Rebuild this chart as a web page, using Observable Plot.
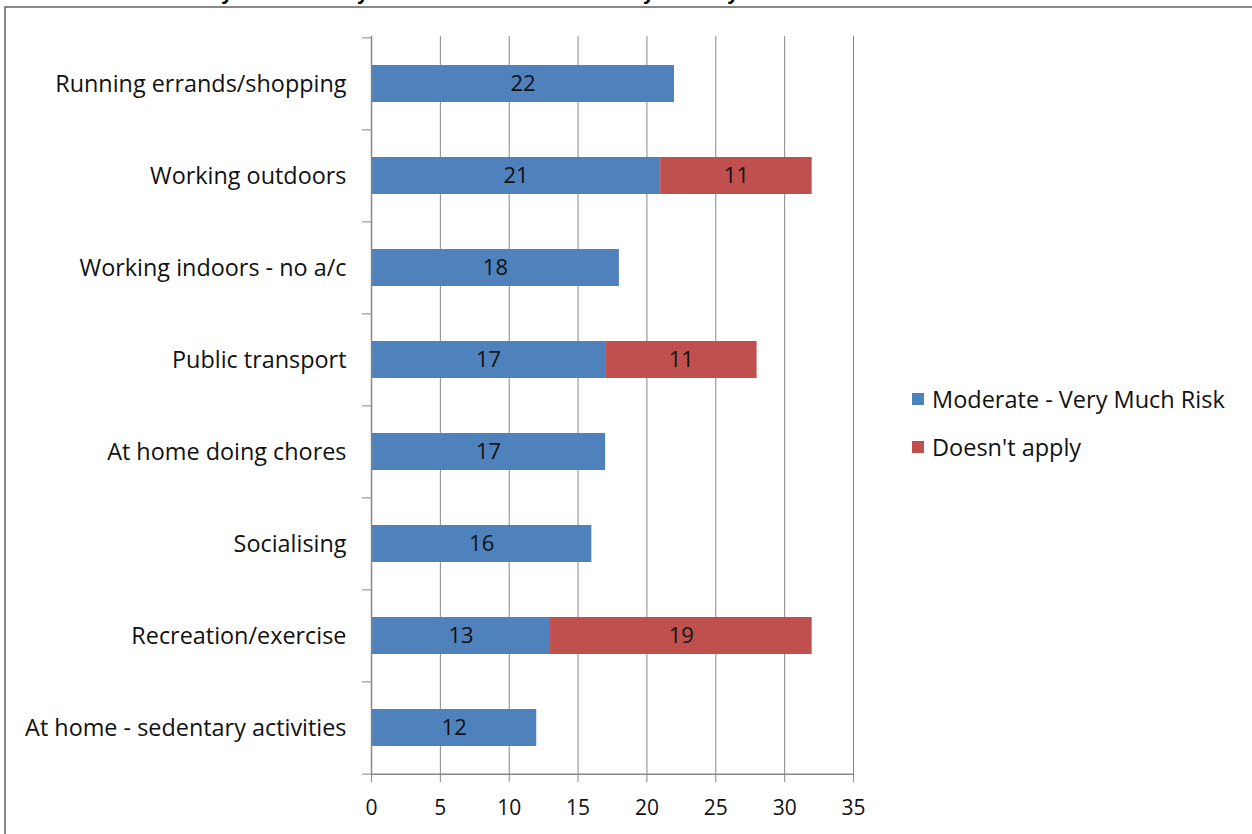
<!DOCTYPE html>
<html>
<head>
<meta charset="utf-8">
<script src="https://cdn.jsdelivr.net/npm/d3@7"></script>
<script src="https://cdn.jsdelivr.net/npm/@observablehq/plot@0.6"></script>
<style>
  html, body { margin: 0; padding: 0; background: #fff; }
  #wrap { position: relative; width: 1252px; height: 834px; overflow: hidden; background: #fff; }
  #title { position: absolute; top: -19px; right: 487px; white-space: nowrap; font: bold 22px "Liberation Sans", Arial, sans-serif; line-height: 22px; color: #000; }
  #frame { position: absolute; left: 4px; top: 6px; width: 1300px; height: 900px; border-left: 2px solid #888; border-top: 2px solid #888; box-sizing: border-box; }
  #chart { position: absolute; left: 0; top: 0; }
  #legend { position: absolute; left: 912px; top: 383px; font: 23.5px "Open Sans", sans-serif; color: #111; }
  .item { display: flex; align-items: center; height: 32px; margin-bottom: 16px; }
  .sw { width: 12px; height: 12px; margin-right: 8px; }
</style>
</head>
<body>
<div id="wrap">
  <div id="title">How much do you feel that your health is at risk on very hot days?</div>
  <div id="frame"></div>
  <div id="chart"></div>
  <div id="legend"></div>
</div>
<script>
const categories = [
  "Running errands/shopping",
  "Working outdoors",
  "Working indoors - no a/c",
  "Public transport",
  "At home doing chores",
  "Socialising",
  "Recreation/exercise",
  "At home - sedentary activities"
];
const seriesNames = ["Moderate - Very Much Risk", "Doesn't apply"];
const moderateRisk = [22, 21, 18, 17, 17, 16, 13, 12];
const doesntApply = [null, 11, null, 11, null, null, 19, null];
const seriesColors = ["#4F81BD", "#C0504D"];
const xTicks = [0, 5, 10, 15, 20, 25, 30, 35];

const rows = [];
categories.forEach((c, i) => {
  rows.push({cat: c, series: seriesNames[0], value: moderateRisk[i]});
  if (doesntApply[i] != null) rows.push({cat: c, series: seriesNames[1], value: doesntApply[i]});
});

const W = 1252, H = 834;
const mTop = 36, mBottom = 60, mLeft = 371, mRight = 399;
const step = (H - mTop - mBottom) / categories.length;
const font = '"Open Sans", sans-serif';

const plot = Plot.plot({
  width: W,
  height: H,
  marginTop: mTop,
  marginBottom: mBottom,
  marginLeft: mLeft,
  marginRight: mRight,
  style: {fontFamily: font, fontSize: "20px", color: "#111", background: "transparent", overflow: "visible"},
  x: {domain: [0, 35], ticks: xTicks, label: null},
  y: {domain: categories, paddingInner: 0.6, paddingOuter: 0.3, label: null},
  color: {domain: seriesNames, range: seriesColors},
  marks: [
    Plot.gridX(xTicks.filter(t => t > 0), {stroke: "#878787", strokeOpacity: 1, strokeWidth: 1}),
    Plot.barX(rows, Plot.stackX({x: "value", y: "cat", fill: "series", order: seriesNames})),
    Plot.text(rows, Plot.stackX({x: "value", y: "cat", z: "series", order: seriesNames, text: d => String(d.value), fill: "#111", fontSize: 22})),
    Plot.ruleX([0], {stroke: "#878787", strokeWidth: 1.5}),
    Plot.ruleY([0], {y: () => categories[categories.length - 1], x1: 0, x2: 35, dy: step / 2, stroke: "#878787", strokeWidth: 1.5}),
    Plot.axisX({ticks: xTicks, tickSize: 8, tickPadding: 18, stroke: "#878787", fill: "#111", fontSize: 21, label: null}),
    Plot.axisY({tickSize: 9, text: null, dy: -step / 2, stroke: "#878787"}),
    Plot.axisY({ticks: [categories[categories.length - 1]], tickSize: 9, text: null, dy: step / 2, stroke: "#878787"}),
    Plot.axisY({tickSize: 0, tickPadding: 25, fill: "#111", fontSize: 23.4, label: null})
  ]
});
document.getElementById("chart").appendChild(plot);

const legend = document.getElementById("legend");
seriesNames.forEach((s, i) => {
  const item = document.createElement("div");
  item.className = "item";
  const sw = document.createElement("div");
  sw.className = "sw";
  sw.style.background = seriesColors[i];
  const t = document.createElement("span");
  t.textContent = s;
  item.appendChild(sw);
  item.appendChild(t);
  legend.appendChild(item);
});
</script>
</body>
</html>
